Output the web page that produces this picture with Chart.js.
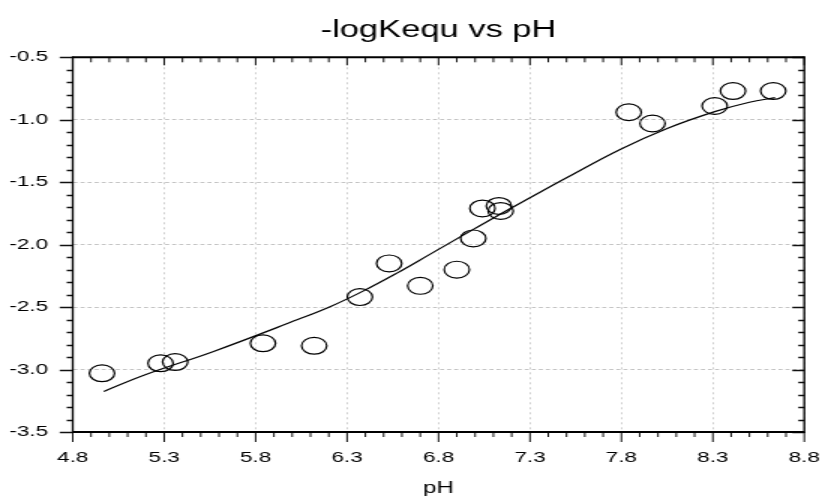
<!DOCTYPE html>
<html>
<head>
<meta charset="utf-8">
<script src="https://cdn.jsdelivr.net/npm/chart.js@4.4.1/dist/chart.umd.min.js"></script>
<style>
  html, body { margin: 0; padding: 0; background: #fff; overflow: hidden; }
  /* the reference is drawn horizontally stretched, so the chart is laid out at 548px and widened 1.5x */
  #wrap { width: 548px; height: 504px; transform: scaleX(1.5); transform-origin: 0 0; }
</style>
</head>
<body>
<div id="wrap"><canvas id="chart" width="548" height="504"></canvas></div>
<script>
// measured points
var ptX = [4.96, 5.28, 5.36, 5.84, 6.12, 6.37, 6.53, 6.70, 6.90, 6.99, 7.04, 7.13, 7.14, 7.84, 7.97, 8.31, 8.41, 8.63];
var ptY = [-3.03, -2.95, -2.94, -2.79, -2.81, -2.42, -2.15, -2.33, -2.20, -1.95, -1.71, -1.69, -1.73, -0.94, -1.03, -0.89, -0.77, -0.77];

// fitted curve
var fitX = [4.97, 5.20, 5.57, 6.03, 6.21, 6.39, 6.57, 6.75, 6.94, 7.12, 7.30, 7.50, 7.79, 8.05, 8.31, 8.50, 8.64];
var fitY = [-3.175, -3.04, -2.855, -2.60, -2.495, -2.37, -2.23, -2.08, -1.92, -1.77, -1.625, -1.465, -1.24, -1.07, -0.935, -0.86, -0.823];

// tick labels
var xTicks = [4.8, 5.3, 5.8, 6.3, 6.8, 7.3, 7.8, 8.3, 8.8];
var yTicks = [-3.5, -3.0, -2.5, -2.0, -1.5, -1.0, -0.5];

var FONT = "'Liberation Sans', Arial, sans-serif";
var SX = 1.5; // horizontal stretch of the page

// frame + major/minor ticks on all four sides
var frameTicks = {
    id: 'frameTicks',
    afterDraw: function (chart) {
        var ctx = chart.ctx, a = chart.chartArea;
        var xs = chart.scales.x, ys = chart.scales.y;
        ctx.save();
        ctx.strokeStyle = '#111';
        // vertical tick marks (bottom outward, top inward)
        ctx.lineWidth = 1.5 / SX;
        ctx.beginPath();
        for (var i = 0; i <= 40; i++) {
            var px = xs.getPixelForValue(4.8 + i * 0.1);
            var major = i % 5 === 0;
            ctx.moveTo(px, a.bottom);
            ctx.lineTo(px, a.bottom + (major ? 10 : 5));
            ctx.moveTo(px, a.top);
            ctx.lineTo(px, a.top + (major ? 8 : 5));
        }
        ctx.stroke();
        // horizontal tick marks (left outward, right inward)
        ctx.lineWidth = 1.5;
        ctx.beginPath();
        for (var j = 0; j <= 30; j++) {
            var py = Math.round(ys.getPixelForValue(-3.5 + j * 0.1)) + 0.5;
            var maj = j % 5 === 0;
            ctx.moveTo(a.left, py);
            ctx.lineTo(a.left - (maj ? 13 : 6) / SX, py);
            ctx.moveTo(a.right, py);
            ctx.lineTo(a.right - (maj ? 12 : 6) / SX, py);
        }
        ctx.stroke();
        // frame
        ctx.strokeStyle = '#000';
        ctx.lineWidth = 2;
        ctx.beginPath();
        ctx.moveTo(a.left, a.top); ctx.lineTo(a.right, a.top);
        ctx.moveTo(a.left, a.bottom); ctx.lineTo(a.right, a.bottom);
        ctx.stroke();
        ctx.lineWidth = 2 / SX;
        ctx.beginPath();
        ctx.moveTo(a.left, a.top - 1); ctx.lineTo(a.left, a.bottom + 1);
        ctx.moveTo(a.right, a.top - 1); ctx.lineTo(a.right, a.bottom + 1);
        ctx.stroke();
        ctx.restore();
    }
};

var ctx = document.getElementById('chart').getContext('2d');
var myChart = new Chart(ctx, {
    type: 'scatter',
    data: {
        datasets: [{
            label: 'fit',
            data: fitX.map(function (x, i) { return {x: x, y: fitY[i]}; }),
            showLine: true,
            borderColor: '#000',
            borderWidth: 1.2,
            pointRadius: 0,
            tension: 0.4,
            fill: false
        }, {
            label: '-logKequ',
            data: ptX.map(function (x, i) { return {x: x, y: ptY[i]}; }),
            showLine: false,
            pointStyle: 'circle',
            pointRadius: 8.4,
            borderColor: '#000',
            borderWidth: 1.2,
            backgroundColor: 'rgba(0,0,0,0)'
        }]
    },
    options: {
        responsive: false,
        animation: false,
        events: [],
        layout: { padding: { left: 0, right: 11.8, top: 0, bottom: 0 } },
        plugins: {
            legend: { display: false },
            tooltip: { enabled: false },
            title: {
                display: true,
                fullSize: false,
                text: '-logKequ vs pH',
                color: '#000',
                font: { family: FONT, size: 23, weight: 'normal' },
                padding: { top: 16.5, bottom: 13.2 }
            }
        },
        scales: {
            x: {
                type: 'linear',
                position: 'bottom',
                min: 4.8,
                max: 8.8,
                afterBuildTicks: function (s) { s.ticks = xTicks.map(function (v) { return {value: v}; }); },
                afterFit: function (s) { s.height = 72; s.paddingLeft = 0; s.paddingRight = 0; },
                ticks: {
                    autoSkip: false,
                    maxRotation: 0,
                    padding: 17,
                    color: '#000',
                    font: { family: FONT, size: 15 },
                    callback: function (v) { return Number(v).toFixed(1); }
                },
                grid: { color: '#c4c4c4', lineWidth: 0.8, drawTicks: false },
                border: { display: false, dash: [2, 3] },
                title: {
                    display: true,
                    text: 'pH',
                    color: '#000',
                    font: { family: FONT, size: 16 },
                    padding: { top: 0, bottom: 6 }
                }
            },
            y: {
                type: 'linear',
                position: 'left',
                min: -3.5,
                max: -0.5,
                afterBuildTicks: function (s) { s.ticks = yTicks.map(function (v) { return {value: v}; }); },
                afterFit: function (s) { s.width = 48.5; },
                ticks: {
                    autoSkip: false,
                    padding: 16.5,
                    color: '#000',
                    font: { family: FONT, size: 15 },
                    callback: function (v) { return Number(v).toFixed(1); }
                },
                grid: { color: '#c4c4c4', lineWidth: 1, drawTicks: false },
                border: { display: false, dash: [2.7, 2] }
            }
        }
    },
    plugins: [frameTicks]
});
</script>
</body>
</html>
